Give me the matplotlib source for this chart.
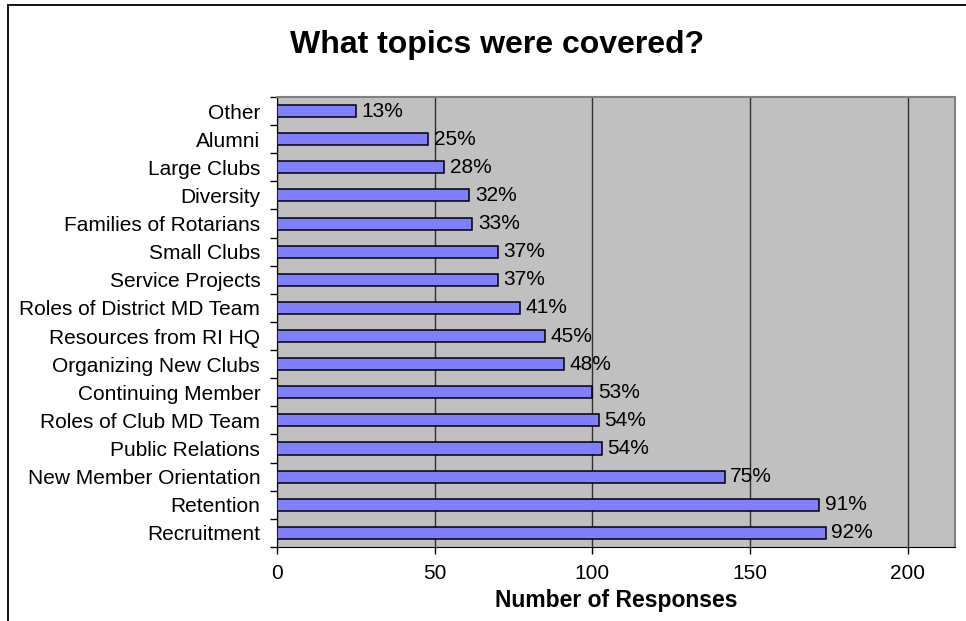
import numpy as np
import matplotlib.pyplot as plt
from matplotlib.patches import Rectangle

# 数据：从上到下的话题及回复数量
topics = ['Other', 'Alumni', 'Large Clubs', 'Diversity', 'Families of Rotarians',
          'Small Clubs', 'Service Projects', 'Roles of District MD Team',
          'Resources from RI HQ', 'Organizing New Clubs', 'Continuing Member',
          'Roles of Club MD Team', 'Public Relations', 'New Member Orientation',
          'Retention', 'Recruitment']
responses = [25, 48, 53, 61, 62, 70, 70, 77, 85, 91, 100, 102, 103, 142, 172, 174]
pct_labels = ['13%', '25%', '28%', '32%', '33%', '37%', '37%', '41%',
              '45%', '48%', '53%', '54%', '54%', '75%', '91%', '92%']
x_ticks = [0, 50, 100, 150, 200]

plt.rcParams['font.family'] = ['Liberation Sans', 'DejaVu Sans']

fig = plt.figure(figsize=(9.66, 6.21), dpi=100)
ax = fig.add_axes([0.2867, 0.1192, 0.7019, 0.7246])

# 外框（只露出左边和上边）
fig.patches.append(Rectangle((8 / 966, -0.05), 1.1, 1 - 5 / 621 + 0.05,
                             transform=fig.transFigure, fill=False,
                             edgecolor='black', linewidth=1.3))

ax.set_facecolor('#C0C0C0')
y = np.arange(len(topics))[::-1]
ax.barh(y, responses, height=0.43, color='#8080FF', edgecolor='black',
        linewidth=1.1, zorder=3)

for yi, v, lab in zip(y, responses, pct_labels):
    ax.annotate(lab, xy=(v, yi), xytext=(4, 0), textcoords='offset points',
                va='center', ha='left', fontsize=15, zorder=4)

ax.set_xlim(0, 215)
ax.set_ylim(-0.5, len(topics) - 0.5)

ax.set_xticks(x_ticks)
ax.set_xticklabels([str(t) for t in x_ticks], fontsize=15)
ax.xaxis.grid(True, color='#303030', linewidth=1.0, zorder=1)
ax.set_axisbelow(True)

# 类别分隔刻度 + 标签放在中心
ax.set_yticks(np.arange(-0.5, len(topics), 1.0))
ax.set_yticklabels([])
ax.set_yticks(y, minor=True)
ax.set_yticklabels(topics, minor=True, fontsize=15)
ax.tick_params(axis='y', which='minor', length=0, pad=12)
ax.tick_params(axis='y', which='major', length=5, width=1, direction='out')
ax.tick_params(axis='x', length=5, width=1, direction='out', pad=7)

for side in ['top', 'right']:
    ax.spines[side].set_color('#808080')
    ax.spines[side].set_linewidth(1.5)
ax.spines['left'].set_color('black')
ax.spines['bottom'].set_color('black')

fig.text(0.5145, 0.9275, 'What topics were covered?', ha='center', va='center',
         fontsize=23, fontweight='bold')
fig.text(0.6377, 0.0338, 'Number of Responses', ha='center', va='center',
         fontsize=16.5, fontweight='bold')

fig.savefig('out.png', dpi=100)
